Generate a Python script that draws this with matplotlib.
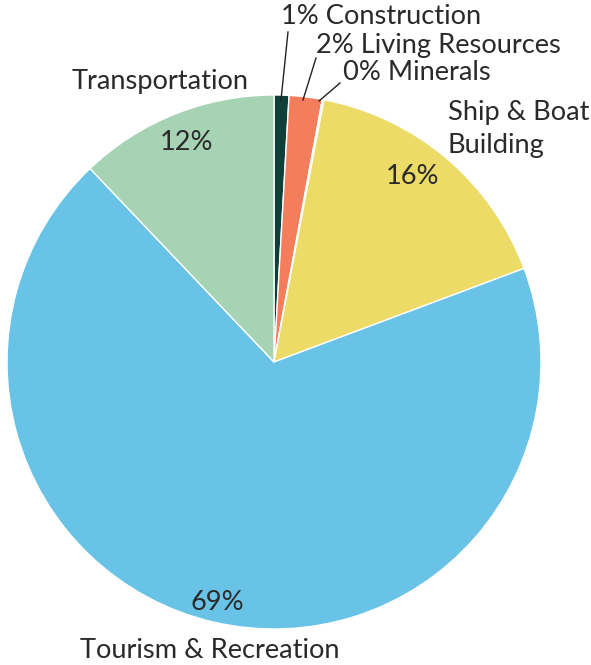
import matplotlib.pyplot as plt

plt.rcParams['font.family'] = ['Lato', 'DejaVu Sans']

# slices clockwise from 12 o'clock
sectors = ['Construction', 'Living Resources', 'Minerals',
           'Ship & Boat\nBuilding', 'Tourism & Recreation', 'Transportation']
shares = [0.9, 2.0, 0.1, 16.3, 68.6, 12.1]
colors = ['#0e3f39', '#f47d5b', '#f3e9a6', '#ecdb67', '#68c3e6', '#a6d3b4']

W, H = 591, 665
fig = plt.figure(figsize=(W / 100, H / 100), dpi=100)
ax = fig.add_axes([0, 0, 1, 1])
ax.axis('off')

cx, cy, r = 274, H - 362, 267
wedges, _ = ax.pie(shares, colors=colors, startangle=90, counterclock=False,
                   center=(cx, cy), radius=r,
                   wedgeprops=dict(edgecolor='white', linewidth=1))
ax.set_xlim(0, W)
ax.set_ylim(0, H)
ax.set_aspect('equal')

pct = [f"{round(v)}%" for v in shares]
txt = dict(color='#2a2a2a', fontsize=19.6, fontweight='normal')

# small slices: labels above with leader lines
ax.text(281, H - 17, f"{pct[0]} {sectors[0]}", ha='left', va='center', **txt)
ax.text(316, H - 45, f"{pct[1]} {sectors[1]}", ha='left', va='center', **txt)
ax.text(343, H - 73, f"{pct[2]} {sectors[2]}", ha='left', va='center', **txt)
ax.plot([288, 281], [H - 32, H - 100], color='#222222', lw=1)
ax.plot([316, 303], [H - 58, H - 100], color='#222222', lw=1)
ax.plot([340, 319], [H - 83, H - 101], color='#222222', lw=1)

# larger slices
ax.text(448, H - 129, sectors[3], ha='left', va='center', linespacing=1.4, **txt)
ax.text(413, H - 176, pct[3], ha='center', va='center', **txt)
ax.text(72, H - 82, sectors[5], ha='left', va='center', **txt)
ax.text(187, H - 142, pct[5], ha='center', va='center', **txt)
ax.text(80, H - 650, sectors[4], ha='left', va='center', **txt)
ax.text(217, H - 602, pct[4], ha='center', va='center', **txt)

fig.savefig('out.png', dpi=100)
